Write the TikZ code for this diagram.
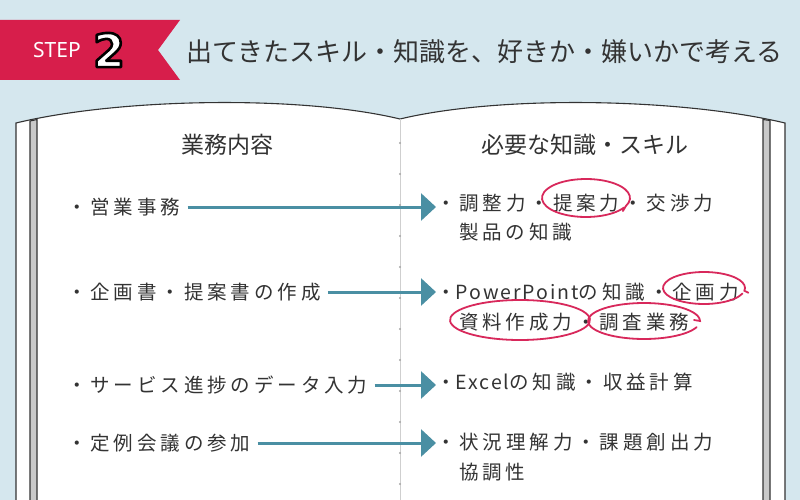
\documentclass[tikz,border=0pt]{standalone}
\usepackage{fontspec}
\usetikzlibrary{arrows.meta}
\setmainfont{Noto Sans CJK JP}
\newfontfamily\handfont{Noto Sans CJK JP}[LetterSpace=20]
\newfontfamily\plainfont{Noto Sans CJK JP}[LetterSpace=10]
\newfontfamily\latinsans{Noto Sans}
\newfontfamily\digitfont{DejaVu Sans Bold}
\definecolor{bgblue}{HTML}{D5E7EE}
\definecolor{ribbon}{HTML}{D71E4B}
\definecolor{ink}{HTML}{333333}
\definecolor{teal}{HTML}{4A8FA3}
\definecolor{markred}{HTML}{D8285B}
\definecolor{stripgray}{HTML}{C9C9C9}
\definecolor{spine}{HTML}{CFCFCF}
\newcommand{\lat}[1]{{\plainfont #1}}
\begin{document}
\begin{tikzpicture}[x=1pt,y=-1pt,
  itemtxt/.style={inner sep=0pt, anchor=west, text=ink, font=\handfont\fontsize{19.5pt}{21pt}\selectfont},
  headtxt/.style={inner sep=0pt, text=ink, font=\fontsize{23pt}{25pt}\selectfont},
  arr/.style={draw=teal, line width=3pt, -{Triangle[length=15pt,width=27pt]}, shorten <=7pt},
  redmark/.style={draw=markred, line width=1.8pt, line cap=round},
  edge/.style={draw=ink, line width=1.1pt}]
\useasboundingbox (0,0) rectangle (800,500);
\fill[bgblue] (0,0) rectangle (800,500);
% ribbon
\fill[ribbon] (0,20) -- (180,20) -- (158,50) -- (180,80) -- (0,80) -- cycle;
\node[inner sep=0pt, text=white, font=\latinsans\fontsize{21pt}{23pt}\selectfont] (step) at (57,50) {STEP};
\node[inner sep=0pt, font=\digitfont\fontsize{46pt}{48pt}\selectfont] (num) at (109,50)
  {\color{white}\special{pdf:code q 2 Tr 2.6 w 1 j 0 0 0 RG}2\special{pdf:code Q}};
\node[inner sep=0pt, anchor=west, text=ink, font=\fontsize{26pt}{28pt}\selectfont] (title) at (186,52) {出てきたスキル・知識を、好きか・嫌いかで考える};
% book
\filldraw[fill=white, edge] (16,505) -- (16,123) .. controls (120,98) and (300,95) .. (400,119)
  .. controls (500,95) and (680,98) .. (785,123) -- (785,505) -- cycle;
\filldraw[fill=stripgray, edge] (30,505) -- (30,121) -- (37,119.5) -- (37,505);
\filldraw[fill=stripgray, edge] (763,505) -- (763,119.5) -- (770,120.5) -- (770,505);
\draw[spine, line width=1pt] (400,119) -- (400,500);
\foreach \yy in {143,174,...,500} \fill[gray!70] (400,\yy) circle (1.2pt);
% headings
\node[headtxt] (hl) at (227,145) {業務内容};
\node[headtxt] (hr) at (585,145) {必要な知識・スキル};
% left items
\node[itemtxt] (l1) at (67,207) {・営業事務};
\node[itemtxt] (l2) at (67,292) {・企画書・提案書の作成};
\node[itemtxt] (l3) at (67,385) {・サービス進捗のデータ入力};
\node[itemtxt] (l4) at (67,443) {・定例会議の参加};
% right items
\node[itemtxt] (r1) at (436,203) {・調整力・提案力・交渉力};
\node[itemtxt] (r1b) at (459,232) {製品の知識};
\node[itemtxt] (r2) at (436,292) {・\lat{PowerPoint}の知識・企画力};
\node[itemtxt] (r2b) at (459,322) {資料作成力・調査業務};
\node[itemtxt] (r3) at (436,382) {・\lat{Excel}の知識・収益計算};
\node[itemtxt] (r4) at (436,442) {・状況理解力・課題創出力};
\node[itemtxt] (r4b) at (459,472) {協調性};
% arrows
\draw[arr] (l1.east) -- (l1.east -| r1.west);
\draw[arr] (l2.east) -- (l2.east -| r2.west);
\draw[arr] (l3.east) -- (l3.east -| r3.west);
\draw[arr] (l4.east) -- (l4.east -| r4.west);
% red marks
\draw[redmark] (586,198) ++(30:44 and 19) arc[start angle=30, delta angle=355, x radius=44, y radius=19] -- ++(-3,5);
\draw[redmark] (704,288) ++(20:41 and 16) arc[start angle=20, delta angle=350, x radius=41, y radius=16] -- ++(4,2);
\draw[redmark] (520,320) ++(-15:70 and 20) arc[start angle=-15, delta angle=360, x radius=70, y radius=20];
\draw[redmark] (644,321) ++(20:56 and 18) arc[start angle=20, delta angle=340, x radius=56, y radius=18] -- ++(-6,-1);
\end{tikzpicture}
\end{document}
